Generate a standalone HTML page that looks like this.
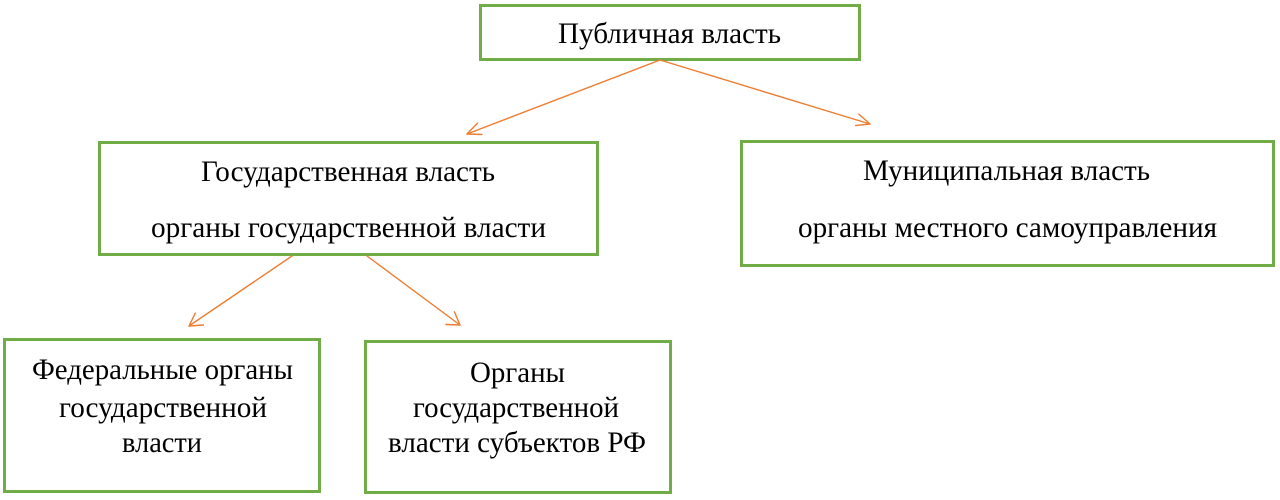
<!DOCTYPE html>
<html>
<head>
<meta charset="utf-8">
<style>
  html, body { margin: 0; padding: 0; background: #ffffff; }
  body { width: 1280px; height: 500px; overflow: hidden; }
  svg { display: block; }
  text { font-family: "Liberation Serif", "DejaVu Serif", serif; font-size: 30px; fill: #000000; }
</style>
</head>
<body>
<svg width="1280" height="500" viewBox="0 0 1280 500" xmlns="http://www.w3.org/2000/svg">
  <rect x="0" y="0" width="1280" height="500" fill="#ffffff"/>

  <!-- boxes -->
  <g fill="none" stroke="#70ad47" stroke-width="3">
    <rect x="480.5" y="5.5" width="379" height="54"/>
    <rect x="99.5" y="142.5" width="498" height="112"/>
    <rect x="741.5" y="141.5" width="532" height="124"/>
    <rect x="4.5" y="339.5" width="315" height="152"/>
    <rect x="365.5" y="341.5" width="305" height="151"/>
  </g>

  <!-- connectors -->
  <g fill="none" stroke="#ed7d31" stroke-width="1.4" stroke-linecap="round" stroke-linejoin="round">
    <line x1="660" y1="60" x2="467" y2="134"/>
    <polyline points="477.5,123.2 467,134 481.9,134.5"/>
    <line x1="660" y1="60" x2="870" y2="124"/>
    <polyline points="855.5,125.6 870,124 858.8,114.1"/>
    <line x1="292" y1="256" x2="189" y2="326"/>
    <polyline points="195.3,313.1 189,326 203.4,325"/>
    <line x1="367" y1="256" x2="460" y2="325"/>
    <polyline points="446,324.5 460,325 454.4,311.8"/>
  </g>

  <!-- labels -->
  <text x="558" y="43" textLength="223" lengthAdjust="spacingAndGlyphs">Публичная власть</text>

  <text x="201" y="181" textLength="294" lengthAdjust="spacingAndGlyphs">Государственная власть</text>
  <text x="151" y="237" textLength="395" lengthAdjust="spacingAndGlyphs">органы государственной власти</text>

  <text x="863" y="180" textLength="287" lengthAdjust="spacingAndGlyphs">Муниципальная власть</text>
  <text x="798" y="237" textLength="419" lengthAdjust="spacingAndGlyphs">органы местного самоуправления</text>

  <text x="32" y="379" textLength="261" lengthAdjust="spacingAndGlyphs">Федеральные органы</text>
  <text x="59" y="417" textLength="208" lengthAdjust="spacingAndGlyphs">государственной</text>
  <text x="122" y="452" textLength="80" lengthAdjust="spacingAndGlyphs">власти</text>

  <text x="470" y="382" textLength="95" lengthAdjust="spacingAndGlyphs">Органы</text>
  <text x="413" y="417" textLength="206" lengthAdjust="spacingAndGlyphs">государственной</text>
  <text x="388" y="452" textLength="258" lengthAdjust="spacingAndGlyphs">власти субъектов РФ</text>
</svg>
</body>
</html>
